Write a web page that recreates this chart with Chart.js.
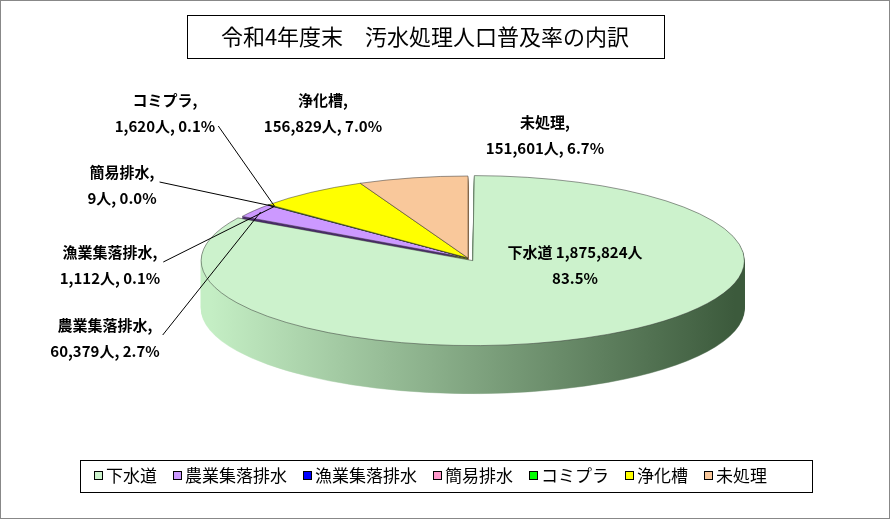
<!DOCTYPE html>
<html>
<head>
<meta charset="utf-8">
<script src="https://cdn.jsdelivr.net/npm/chart.js@4"></script>
<style>
  html, body { margin: 0; padding: 0; background: #fff; }
  #wrap { width: 890px; height: 519px; }
</style>
</head>
<body>
<div id="wrap"><canvas id="chart" width="890" height="519"></canvas></div>
<script>
const title = '令和4年度末　汚水処理人口普及率の内訳';
const categories = ['下水道', '農業集落排水', '漁業集落排水', '簡易排水', 'コミプラ', '浄化槽', '未処理'];
const population = [1875824, 60379, 1112, 9, 1620, 156829, 151601];
const shares = ['83.5%', '2.7%', '0.1%', '0.0%', '0.1%', '7.0%', '6.7%'];

const topColors = ['#ccf2cc', '#cc99ff', '#0000ff', '#ff99cc', '#00ff00', '#ffff00', '#f9c89b'];
const sideColors = ['#6a9a6a', '#4b2a6e', '#000080', '#a05070', '#008000', '#909000', '#a07850'];

// where each label sits [x, y of first line, draw leader]
const labelPos = [
  [575, 252, false], [105, 325, true], [110, 252, true], [122, 172, true],
  [165, 100, true], [323, 100, false], [545, 122, false]
];

const target = { x: 468, y: 258, rx: 262, ry: 82, depth: 48 };

function fmt(n) { return n.toLocaleString('en-US'); }

let T = null;
function calcTransform(chart) {
  const el = chart.getDatasetMeta(0).data[0];
  const cx = chart.chartArea.left + chart.chartArea.width / 2;
  const cy = chart.chartArea.top + chart.chartArea.height / 2;
  const R = el.outerRadius;
  T = { cx, cy, R, sx: target.rx / R, sy: target.ry / R };
}
function applyT(ctx) {
  ctx.translate(target.x, target.y);
  ctx.scale(T.sx, T.sy);
  ctx.translate(-T.cx, -T.cy);
}

const pie3d = {
  id: 'pie3d',
  beforeDatasetsDraw(chart) {
    const ctx = chart.ctx;
    calcTransform(chart);
    const meta = chart.getDatasetMeta(0);
    ctx.save();
    applyT(ctx);
    const steps = Math.round(target.depth);
    const grad = ctx.createLinearGradient(T.cx - T.R, 0, T.cx + T.R, 0);
    grad.addColorStop(0, '#c4eec4');
    grad.addColorStop(1, '#3c5a3c');
    for (let d = steps; d >= 1; d--) {
      ctx.save();
      ctx.translate(0, d / T.sy);
      meta.data.forEach((el, i) => {
        const o = el.options;
        const bg = o.backgroundColor, bc = o.borderColor;
        o.backgroundColor = i === 0 ? grad : sideColors[i];
        o.borderColor = o.backgroundColor;
        el.draw(ctx);
        o.backgroundColor = bg; o.borderColor = bc;
      });
      ctx.restore();
    }
  },
  afterDatasetsDraw(chart) {
    const ctx = chart.ctx;
    ctx.restore();
    const meta = chart.getDatasetMeta(0);
    ctx.save();
    // frame
    ctx.strokeStyle = '#888'; ctx.lineWidth = 1;
    ctx.strokeRect(0.5, 0.5, 889, 518);
    // title
    ctx.strokeStyle = '#000';
    ctx.strokeRect(187.5, 15.5, 477, 43);
    ctx.fillStyle = '#000';
    ctx.font = '22px "Noto Sans CJK JP"';
    ctx.textAlign = 'center'; ctx.textBaseline = 'middle';
    ctx.fillText(title, 425, 37);
    // labels
    ctx.font = 'bold 15px "Noto Sans CJK JP"';
    meta.data.forEach((el, i) => {
      const [lx, ly, lead] = labelPos[i];
      if (i === 0) {
        ctx.fillText(categories[i] + ' ' + fmt(population[i]) + '人', lx, ly);
        ctx.fillText(shares[i], lx, ly + 26);
        return;
      }
      ctx.fillText(categories[i] + ',', lx, ly);
      ctx.fillText(fmt(population[i]) + '人, ' + shares[i], lx, ly + 26);
      if (lead) {
        const mid = (el.startAngle + el.endAngle) / 2;
        const px = target.x + target.rx * Math.cos(mid) * 0.97;
        const py = target.y + target.ry * Math.sin(mid) * 0.97;
        const w = ctx.measureText(fmt(population[i]) + '人, ' + shares[i]).width;
        ctx.beginPath();
        ctx.strokeStyle = '#000'; ctx.lineWidth = 1;
        ctx.moveTo(lx + w / 2 + 3, ly + (i === 4 ? 26 : 10));
        ctx.lineTo(px, py);
        ctx.stroke();
      }
    });
    // legend
    ctx.strokeStyle = '#000';
    ctx.strokeRect(80.5, 460.5, 732, 32);
    ctx.font = '17px "Noto Sans CJK JP"';
    ctx.textAlign = 'left';
    let x = 94;
    categories.forEach((c, i) => {
      ctx.fillStyle = topColors[i];
      ctx.fillRect(x, 471, 9, 9);
      ctx.strokeStyle = '#000';
      ctx.strokeRect(x + 0.5, 471.5, 8, 8);
      ctx.fillStyle = '#000';
      ctx.fillText(c, x + 12, 476);
      x += 12 + ctx.measureText(c).width + 16;
    });
    ctx.restore();
  }
};

new Chart(document.getElementById('chart'), {
  type: 'pie',
  data: {
    labels: categories,
    datasets: [{
      data: population,
      backgroundColor: topColors,
      borderColor: '#333',
      borderWidth: 0.6,
      offset: [30, 0, 0, 0, 0, 0, 0]
    }]
  },
  options: {
    responsive: false,
    animation: false,
    events: [],
    layout: { padding: 40 },
    plugins: { legend: { display: false }, tooltip: { enabled: false } }
  },
  plugins: [pie3d]
});
</script>
</body>
</html>
